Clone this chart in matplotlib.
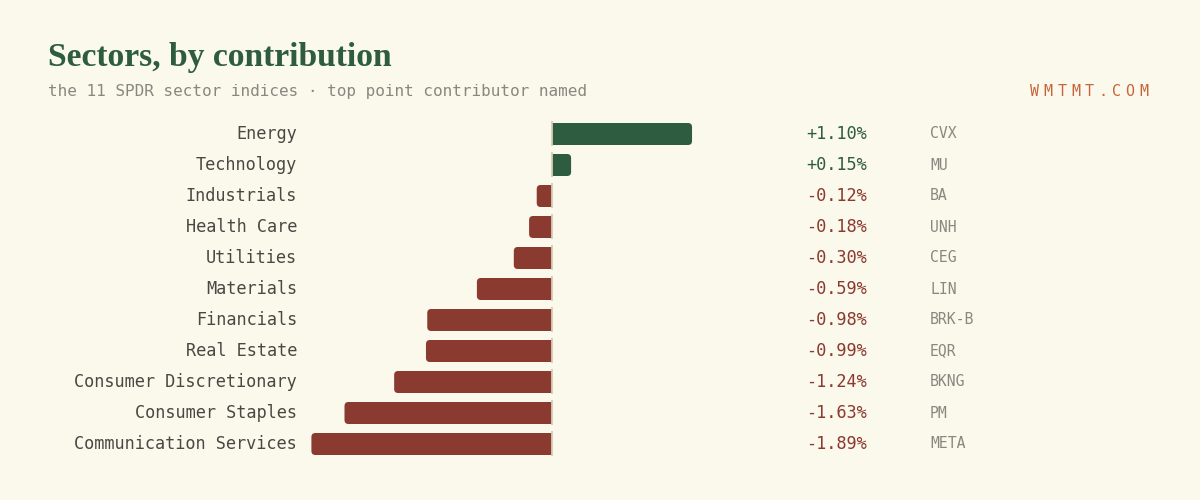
import matplotlib.pyplot as plt
from matplotlib.patches import FancyBboxPatch, Rectangle
from matplotlib import transforms

# data
sectors = ["Energy", "Technology", "Industrials", "Health Care", "Utilities",
           "Materials", "Financials", "Real Estate", "Consumer Discretionary",
           "Consumer Staples", "Communication Services"]
change = [1.10, 0.15, -0.12, -0.18, -0.30, -0.59, -0.98, -0.99, -1.24, -1.63, -1.89]
leaders = ["CVX", "MU", "BA", "UNH", "CEG", "LIN", "BRK-B", "EQR", "BKNG", "PM", "META"]

BG = "#fbf8ec"
GREEN = "#2e5c40"
RED = "#8b3a2f"
GREY = "#8a8780"
DARK = "#4a4843"
ZERO = "#d6ccb4"
MONO = "DejaVu Sans Mono"

W, H, DPI = 1200, 500, 100
px_x = 127.3   # pixels per 1 % point
px_y = 31.0    # pixels per row
x0_px = 552    # zero line
y0_px = 134    # first row centre

fig = plt.figure(figsize=(W / DPI, H / DPI), dpi=DPI, facecolor=BG)
ax = fig.add_axes([0, 0, 1, 1])
ax.set_facecolor(BG)
ax.set_xlim(-x0_px / px_x, (W - x0_px) / px_x)
ax.set_ylim((H - y0_px) / px_y, -y0_px / px_y)
ax.axis("off")

bar_h = 22 / px_y
r_x = 4 / px_x
for i, v in enumerate(change):
    col = GREEN if v > 0 else RED
    left = min(0, v)
    ax.add_patch(FancyBboxPatch((left, i - bar_h / 2), abs(v), bar_h,
                                boxstyle=f"round,pad=0,rounding_size={r_x}",
                                mutation_aspect=px_x / px_y,
                                fc=col, ec="none", zorder=2))
    # square off the end at zero
    ax.add_patch(Rectangle((min(0, v / 2), i - bar_h / 2), abs(v) / 2, bar_h,
                           fc=col, ec="none", zorder=2))
    ax.plot([0, 0], [i - 13 / px_y, i + 12 / px_y], color=ZERO, lw=1.3, zorder=3,
            solid_capstyle="butt")

tr = transforms.blended_transform_factory(fig.transFigure, ax.transData)
for i, (name, v, tk) in enumerate(zip(sectors, change, leaders)):
    col = GREEN if v > 0 else RED
    ax.text(297 / W, i, name, transform=tr, ha="right", va="center",
            family=MONO, fontsize=12.2, color=DARK)
    ax.text(867 / W, i, f"{v:+.2f}%", transform=tr, ha="right", va="center",
            family=MONO, fontsize=12.2, color=col)
    ax.text(930 / W, i, tk, transform=tr, ha="left", va="center",
            family=MONO, fontsize=10.6, color=GREY)

fig.text(48 / W, 1 - 66 / H, "Sectors, by contribution", family="Liberation Serif",
         fontweight="bold", fontsize=24.2, color=GREEN, va="baseline")
fig.text(48 / W, 1 - 96 / H, "the 11 SPDR sector indices \u00b7 top point contributor named",
         family=MONO, fontsize=11.5, color=GREY, va="baseline")

brand = "WMTMT.COM"
for k, ch in enumerate(brand):
    fig.text((1148 - 9 - 13.6 * (len(brand) - 1 - k)) / W, 1 - 96 / H, ch,
             family=MONO, fontsize=10.8, color="#c8643c", va="baseline", ha="left")

fig.savefig("out.png", dpi=DPI, facecolor=BG)
